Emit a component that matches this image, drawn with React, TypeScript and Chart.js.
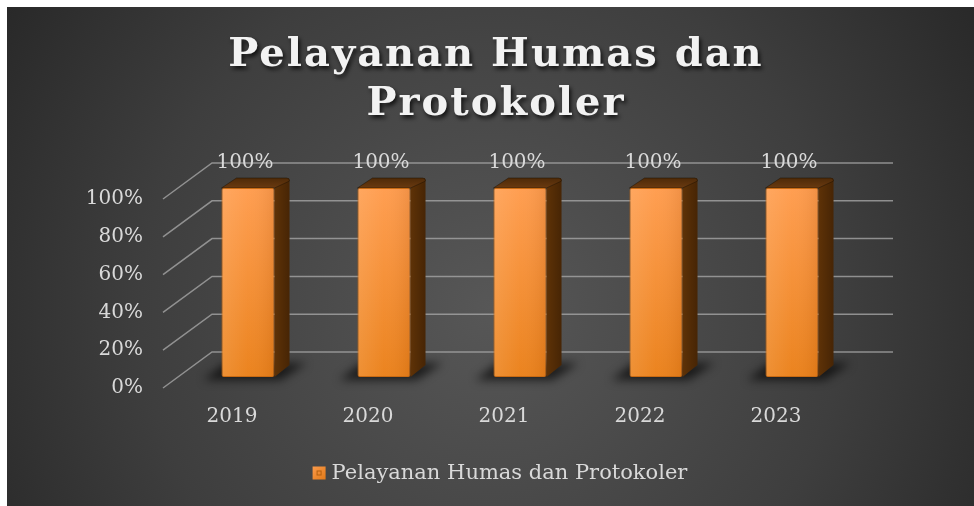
import React, { useEffect, useRef } from "react";
import { Chart, registerables } from "chart.js";
Chart.register(...registerables);

const TITLE_LINES = ["Pelayanan Humas dan", "Protokoler"];
const SERIES_NAME = "Pelayanan Humas dan Protokoler";
const CATEGORIES = ["2019", "2020", "2021", "2022", "2023"];
const VALUES = [100, 100, 100, 100, 100];
const Y_MIN = 0;
const Y_MAX = 100;
const Y_STEP = 20;

const W = 967;
const H = 499;
const FONT = "'DejaVu Serif', Georgia, serif";
const TEXT = "#d9d9d9";

// 3D geometry offsets (pixels)
const BACK_DY = -25;
const BACK_DX_LEFT = 32;
const BACK_DX_RIGHT = 33;
const FRONT_DX = -17;
const FRONT_DY = 11;
const DEPTH_DX = 15;
const DEPTH_DY = -10;

const pct = (v: number) => `${v}%`;

const plugin3d = {
  id: "excel3d",
  beforeDraw(chart: any) {
    const { ctx } = chart;
    ctx.save();
    const g = ctx.createRadialGradient(485, 300, 0, 485, 300, 640);
    g.addColorStop(0, "#575757");
    g.addColorStop(0.55, "#3e3e3e");
    g.addColorStop(1, "#222222");
    ctx.fillStyle = g;
    ctx.fillRect(0, 0, chart.width, chart.height);

    // title
    ctx.font = `bold 40px ${FONT}`;
    (ctx as any).letterSpacing = "2px";
    ctx.textAlign = "center";
    ctx.textBaseline = "alphabetic";
    ctx.shadowColor = "rgba(0,0,0,0.75)";
    ctx.shadowBlur = 4;
    ctx.shadowOffsetX = 2;
    ctx.shadowOffsetY = 3;
    ctx.fillStyle = "#f2f2f2";
    const cx = 489;
    TITLE_LINES.forEach((line, i) => ctx.fillText(line, cx, 59 + i * 49));
    ctx.restore();
  },
  beforeDatasetsDraw(chart: any) {
    const { ctx, chartArea } = chart;
    const ys = chart.scales.y;
    const { left, right } = chartArea;
    ctx.save();
    ctx.strokeStyle = "rgba(165,165,165,0.8)";
    ctx.lineWidth = 1.5;
    ys.ticks.forEach((t: any) => {
      const p = ys.getPixelForValue(t.value);
      ctx.beginPath();
      ctx.moveTo(left + FRONT_DX, p + FRONT_DY);
      ctx.lineTo(left + BACK_DX_LEFT, p + BACK_DY);
      ctx.lineTo(right + BACK_DX_RIGHT, p + BACK_DY);
      ctx.stroke();
    });

    const meta = chart.getDatasetMeta(0);
    meta.data.forEach((bar: any) => {
      const { x, y, base, width } = bar.getProps(["x", "y", "base", "width"], true);
      const l = x - width / 2;
      const r = x + width / 2;
      // shadow
      ctx.save();
      ctx.filter = "blur(5px)";
      ctx.fillStyle = "rgba(0,0,0,0.65)";
      ctx.beginPath();
      ctx.moveTo(l - 18, base + 3);
      ctx.lineTo(r + 6, base + 3);
      ctx.lineTo(r + 32, base - 14);
      ctx.lineTo(l + 4, base - 14);
      ctx.closePath();
      ctx.fill();
      ctx.restore();

      // side face
      const sg = ctx.createLinearGradient(r, 0, r + DEPTH_DX, 0);
      sg.addColorStop(0, "#5e3207");
      sg.addColorStop(1, "#472505");
      ctx.fillStyle = sg;
      ctx.beginPath();
      ctx.moveTo(r, y);
      ctx.lineTo(r + DEPTH_DX, y + DEPTH_DY + 2);
      ctx.quadraticCurveTo(r + DEPTH_DX, y + DEPTH_DY, r + DEPTH_DX - 2, y + DEPTH_DY);
      ctx.lineTo(r + DEPTH_DX, y + DEPTH_DY + 3);
      ctx.lineTo(r + DEPTH_DX, base + DEPTH_DY - 2);
      ctx.lineTo(r, base);
      ctx.closePath();
      ctx.fill();

      // top face
      const tg = ctx.createLinearGradient(0, y + DEPTH_DY, 0, y);
      tg.addColorStop(0, "#4e2a08");
      tg.addColorStop(1, "#6a3a10");
      ctx.fillStyle = tg;
      ctx.beginPath();
      ctx.moveTo(l, y);
      ctx.lineTo(l + DEPTH_DX, y + DEPTH_DY);
      ctx.lineTo(r + DEPTH_DX - 3, y + DEPTH_DY);
      ctx.quadraticCurveTo(r + DEPTH_DX, y + DEPTH_DY, r + DEPTH_DX, y + DEPTH_DY + 3);
      ctx.lineTo(r, y);
      ctx.closePath();
      ctx.fill();
      ctx.strokeStyle = "rgba(30,15,0,0.5)";
      ctx.lineWidth = 1;
      ctx.stroke();
    });
    ctx.restore();
  },
  afterDatasetsDraw(chart: any) {
    const { ctx } = chart;
    const meta = chart.getDatasetMeta(0);
    ctx.save();
    meta.data.forEach((bar: any, i: number) => {
      const { x, y, width, base } = bar.getProps(["x", "y", "width", "base"], true);
      const l = x - width / 2;
      // soft highlight on left of front face
      const hg = ctx.createLinearGradient(l, 0, l + width, 0);
      hg.addColorStop(0, "rgba(255,220,180,0.18)");
      hg.addColorStop(0.5, "rgba(255,220,180,0.04)");
      hg.addColorStop(1, "rgba(120,50,0,0.12)");
      ctx.fillStyle = hg;
      ctx.fillRect(l + 1, y + 1, width - 2, base - y - 2);
      // data label
      ctx.font = `20px ${FONT}`;
      ctx.fillStyle = TEXT;
      ctx.textAlign = "center";
      ctx.textBaseline = "middle";
      ctx.fillText(pct(VALUES[i]), x - 3, y - 25);
    });
    ctx.restore();
  },
  afterDraw(chart: any) {
    const { ctx } = chart;
    ctx.save();
    ctx.font = `21px ${FONT}`;
    const tw = ctx.measureText(SERIES_NAME).width;
    const box = 13;
    const gap = 6;
    const total = box + gap + tw;
    const sx = 493 - total / 2;
    const cy = 466;
    const bg = ctx.createLinearGradient(sx, cy - box / 2, sx + box, cy + box / 2);
    bg.addColorStop(0, "#fb9a4a");
    bg.addColorStop(1, "#e27a18");
    ctx.fillStyle = bg;
    ctx.fillRect(sx, cy - box / 2, box, box);
    ctx.strokeStyle = "#b5600f";
    ctx.lineWidth = 1;
    ctx.strokeRect(sx + 4.5, cy - box / 2 + 4.5, box - 9, box - 9);
    ctx.fillStyle = TEXT;
    ctx.textAlign = "left";
    ctx.textBaseline = "middle";
    ctx.fillText(SERIES_NAME, sx + box + gap, cy + 1);
    ctx.restore();
  },
};

export default function App() {
  const ref = useRef<HTMLCanvasElement | null>(null);
  useEffect(() => {
    const canvas = ref.current;
    if (!canvas) return;
    const chart = new Chart(canvas, {
      type: "bar",
      data: {
        labels: CATEGORIES,
        datasets: [
          {
            label: SERIES_NAME,
            data: VALUES,
            backgroundColor: (c: any) => {
              const area = c.chart.chartArea;
              if (!area) return "#f28a2a";
              const g = c.chart.ctx.createLinearGradient(0, area.top, 0, area.bottom);
              g.addColorStop(0, "#ff9c4e");
              g.addColorStop(1, "#ea8019");
              return g;
            },
            borderColor: "#c96a12",
            borderWidth: 1,
            borderRadius: 2,
            borderSkipped: false,
            barPercentage: 0.39,
            categoryPercentage: 1,
          },
        ],
      },
      options: {
        responsive: false,
        devicePixelRatio: 1,
        animation: false,
        layout: { padding: { top: 181, right: 114, bottom: 69, left: 0 } },
        plugins: {
          legend: { display: false },
          title: { display: false },
          tooltip: { enabled: false },
        },
        scales: {
          x: {
            grid: { display: false, drawTicks: false },
            border: { display: false },
            ticks: {
              color: TEXT,
              font: { family: FONT, size: 20 },
              padding: 28,
              labelOffset: -16,
              maxRotation: 0,
            },
            afterFit: (s: any) => {
              s.height = 60;
            },
          },
          y: {
            min: Y_MIN,
            max: Y_MAX,
            grid: { display: false, drawTicks: false },
            border: { display: false },
            ticks: {
              stepSize: Y_STEP,
              color: TEXT,
              font: { family: FONT, size: 20 },
              padding: 37,
              labelOffset: 11,
              callback: (v: any) => pct(Number(v)),
            },
            afterFit: (s: any) => {
              s.width = 173;
            },
          },
        },
      },
      plugins: [plugin3d],
    });
    return () => chart.destroy();
  }, []);
  return (
    <div style={{ position: "absolute", left: 7, top: 7, width: W, height: H }}>
      <canvas ref={ref} width={W} height={H} style={{ display: "block", width: W, height: H }} />
    </div>
  );
}
